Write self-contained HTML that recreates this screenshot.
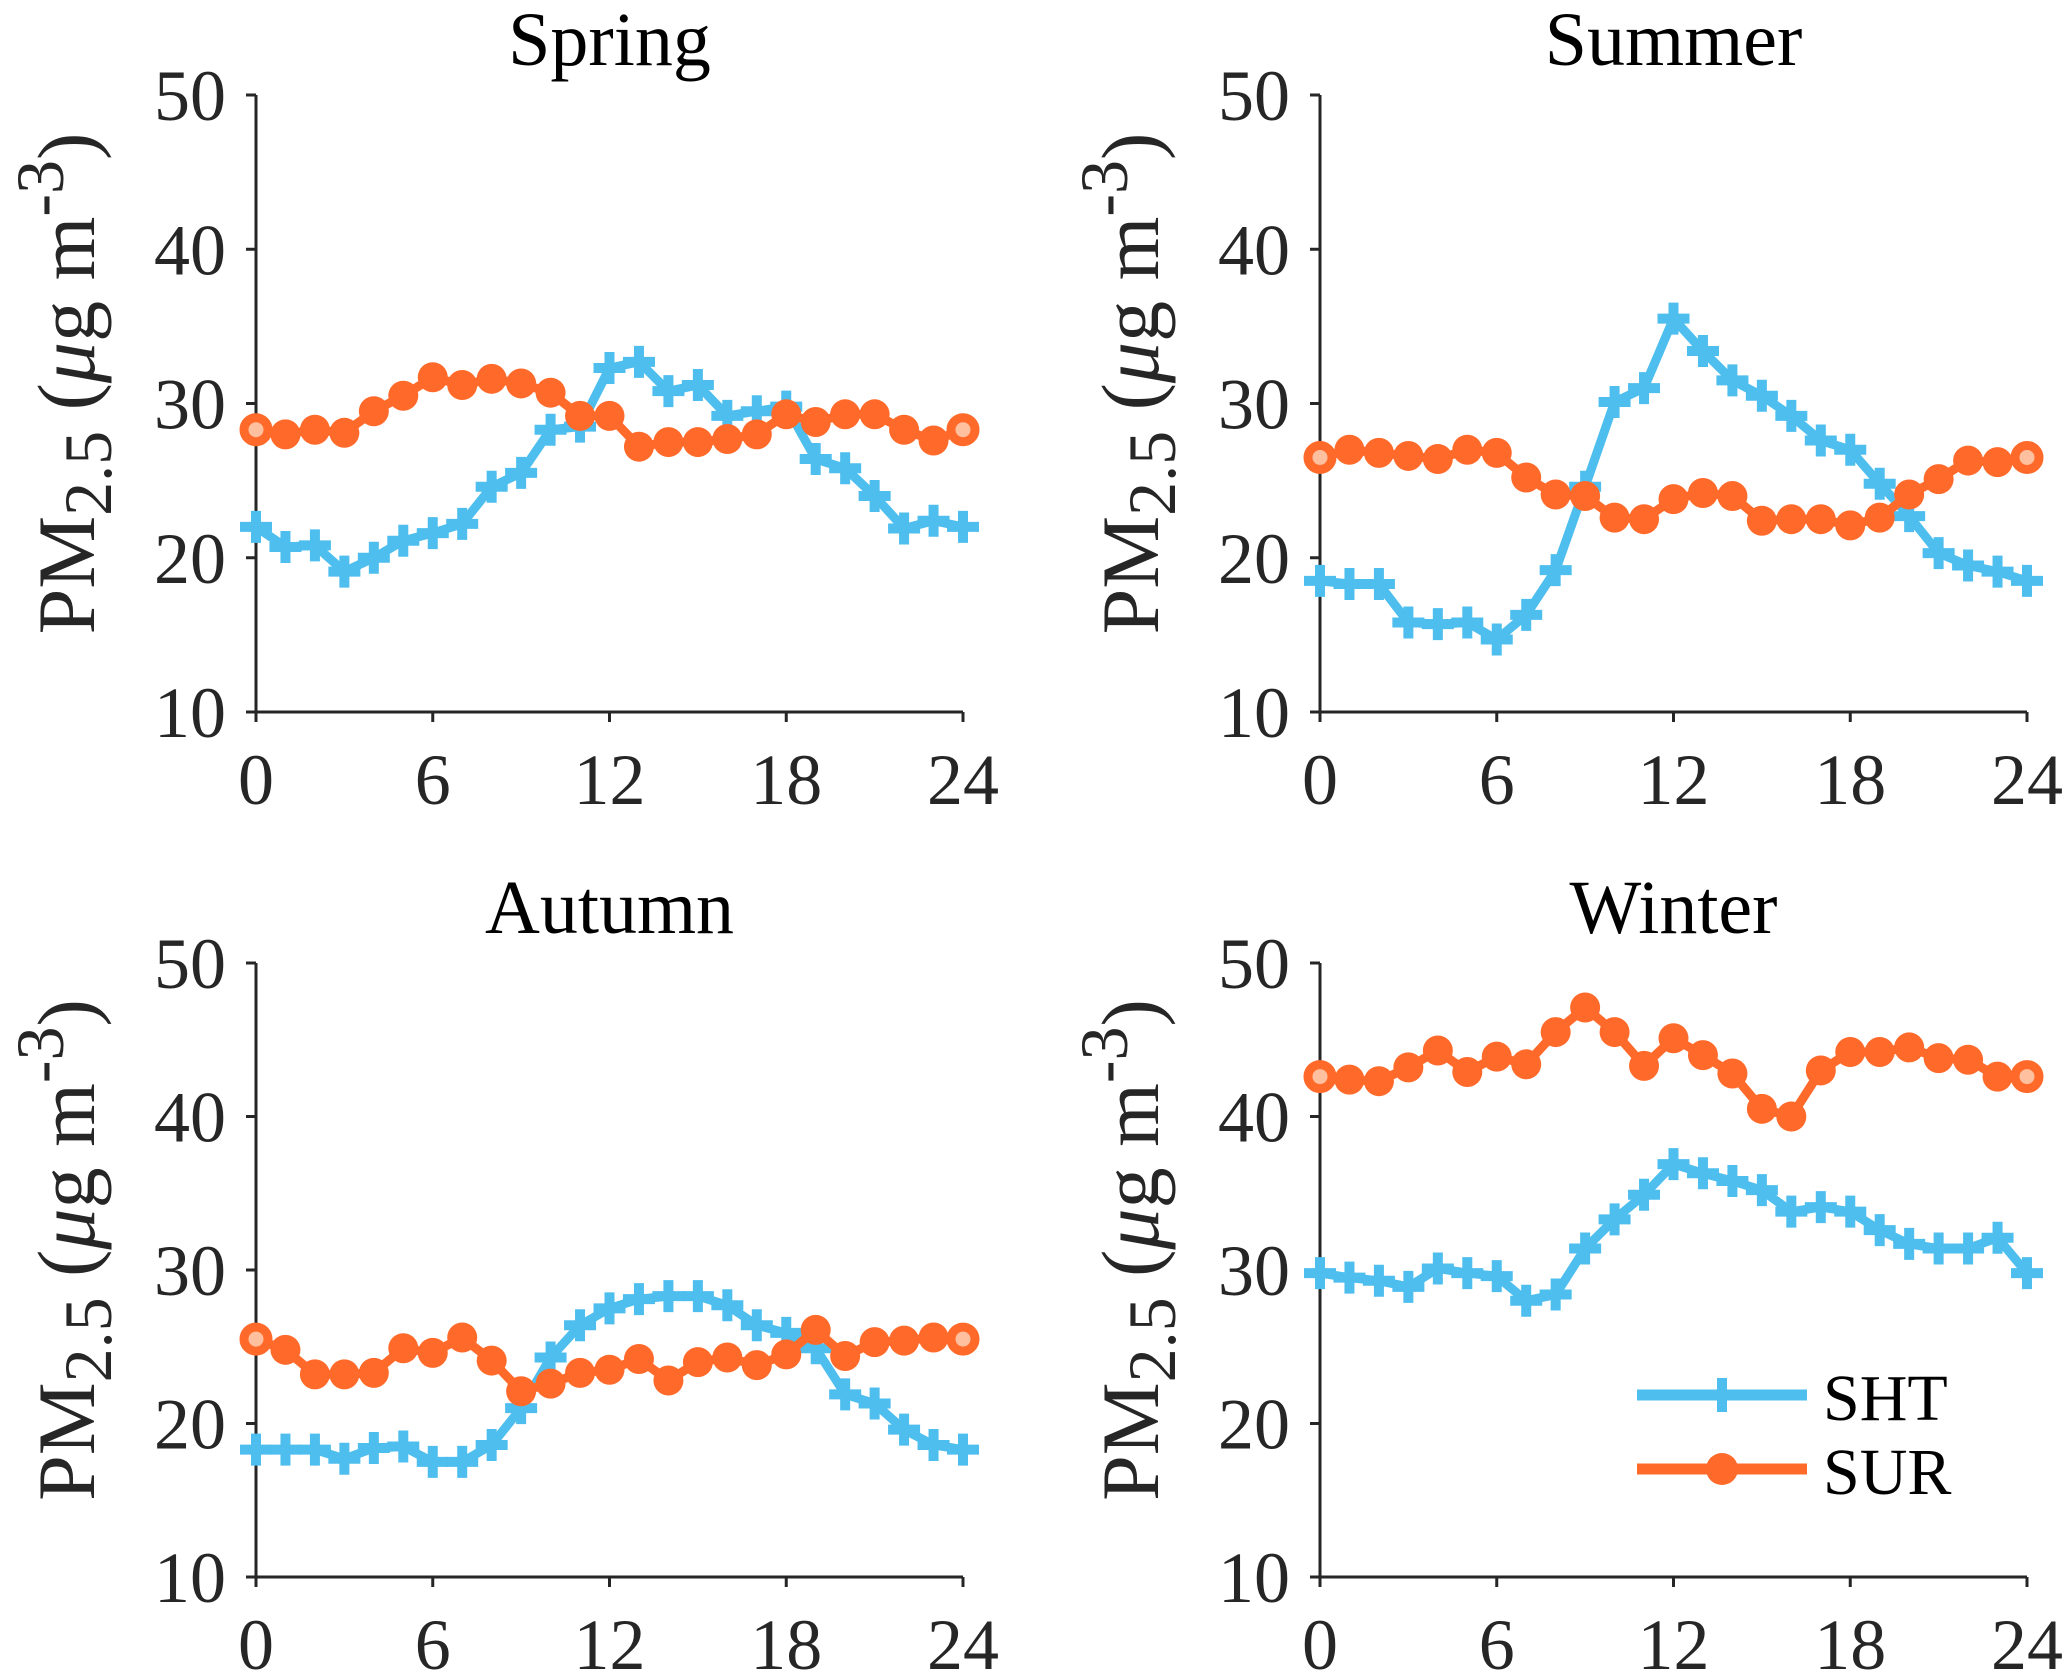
<!DOCTYPE html>
<html><head><meta charset="utf-8"><style>
html,body{margin:0;padding:0;background:#fff}
svg{display:block}
text{font-family:"Liberation Serif",serif;fill:#262626}
</style></head><body>
<svg id="chart" width="2067" height="1678" viewBox="0 0 2067 1678" xmlns="http://www.w3.org/2000/svg"></svg>
<script>
const hours = [0,1,2,3,4,5,6,7,8,9,10,11,12,13,14,15,16,17,18,19,20,21,22,23,24];
const xTicks = [0,6,12,18,24];
const yTicks = [10,20,30,40,50];
const seasons = ["Spring","Summer","Autumn","Winter"];
const springSHT = [22,20.7,20.8,19.1,20,21.1,21.6,22.2,24.6,25.5,28.3,28.5,32.3,32.7,30.8,31.2,29.2,29.5,29.8,26.4,25.8,24,21.9,22.4,22];
const springSUR = [28.3,28,28.3,28.1,29.5,30.5,31.7,31.2,31.6,31.3,30.7,29.2,29.2,27.2,27.5,27.5,27.7,28,29.3,28.8,29.3,29.3,28.3,27.6,28.3];
const summerSHT = [18.5,18.3,18.3,15.8,15.7,15.8,14.7,16.3,19.2,24.6,30.1,31,35.5,33.4,31.5,30.5,29.2,27.6,27,24.8,22.7,20.3,19.5,19.1,18.5];
const summerSUR = [26.5,27,26.8,26.6,26.4,27,26.8,25.2,24.1,24,22.6,22.5,23.8,24.2,24,22.4,22.5,22.5,22.1,22.6,24.1,25.1,26.3,26.2,26.5];
const autumnSHT = [18.3,18.3,18.3,17.7,18.4,18.5,17.5,17.5,18.6,21,24.3,26.4,27.5,28.1,28.3,28.3,27.7,26.4,25.9,24.9,21.9,21.3,19.6,18.6,18.3];
const autumnSUR = [25.5,24.8,23.2,23.2,23.3,24.9,24.6,25.6,24.1,22.1,22.6,23.3,23.5,24.2,22.8,24,24.3,23.8,24.5,26.1,24.4,25.3,25.4,25.6,25.5];
const winterSHT = [29.8,29.5,29.3,28.9,30.1,29.8,29.6,28,28.4,31.4,33.3,34.9,36.9,36.3,35.8,35.2,33.8,34.1,33.8,32.6,31.7,31.4,31.4,32.1,29.8];
const winterSUR = [42.6,42.4,42.3,43.2,44.3,42.9,43.9,43.4,45.5,47.1,45.5,43.3,45.1,44,42.8,40.5,40,43,44.2,44.2,44.5,43.8,43.7,42.6,42.6];
const seriesSHT = [springSHT, summerSHT, autumnSHT, winterSHT];
const seriesSUR = [springSUR, summerSUR, autumnSUR, winterSUR];

const BLUE = "#4DBEEE", ORANGE = "#FF6A2A";
const NS = "http://www.w3.org/2000/svg";
const svg = document.getElementById('chart');
function mk(tag, attrs, parent){ const e=document.createElementNS(NS,tag); for(const k in attrs) e.setAttribute(k,attrs[k]); (parent||svg).appendChild(e); return e; }

const panels = [
  {x0:256,x1:963,y0:95,y1:712},
  {x0:1320,x1:2027,y0:95,y1:712},
  {x0:256,x1:963,y0:963,y1:1577},
  {x0:1320,x1:2027,y0:963,y1:1577}
];

panels.forEach((p,i)=>{
  const g = mk('g',{});
  
  
  const xs = h => p.x0 + (h/24)*(p.x1-p.x0);
  const ys = v => p.y1 - ((v-10)/40)*(p.y1-p.y0);
  const ax = mk('path',{d:`M${p.x0},${p.y0} L${p.x0},${p.y1} L${p.x1},${p.y1}`,stroke:'#262626','stroke-width':3,fill:'none'},g);
  
  
  yTicks.forEach(t=>{
    mk('line',{x1:p.x0-10,x2:p.x0,y1:ys(t),y2:ys(t),stroke:'#262626','stroke-width':3},g);
    const tx = mk('text',{x:p.x0-30,y:ys(t)+25,'text-anchor':'end','font-size':72},g);
    tx.textContent = t;
    
    
  });
  xTicks.forEach(t=>{
    mk('line',{x1:xs(t),x2:xs(t),y1:p.y1,y2:p.y1+10,stroke:'#262626','stroke-width':3},g);
    const tx = mk('text',{x:xs(t),y:p.y1+92,'text-anchor':'middle','font-size':72},g);
    tx.textContent = t;
    
    
  });
  const ti = mk('text',{x:(p.x0+p.x1)/2,y:p.y0-30,'text-anchor':'middle','font-size':76,style:'fill:#000'},g);
  ti.textContent = seasons[i];
  
  
  const cy = (p.y0+p.y1)/2;
  const yl = mk('text',{transform:`translate(${p.x0-162},${cy-20}) rotate(-90)`,'text-anchor':'middle','font-size':82},g);
  yl.innerHTML = 'PM<tspan baseline-shift="-25%" font-size="68">2.5</tspan> (<tspan font-style="italic">μ</tspan>g m<tspan baseline-shift="45%" font-size="68">-3</tspan>)';
  
  
  const sht = seriesSHT[i], sur = seriesSUR[i];
  const l1 = mk('polyline',{points:hours.map((h,k)=>xs(h)+','+ys(sht[k])).join(' '),fill:'none',stroke:BLUE,'stroke-width':9,'stroke-linejoin':'round'},g);
  
  
  hours.forEach((h,k)=>{
    const cx=xs(h), cy2=ys(sht[k]);
    const m = mk('path',{d:`M${cx-16},${cy2} L${cx+16},${cy2} M${cx},${cy2-16} L${cx},${cy2+16}`,stroke:BLUE,'stroke-width':10},g);
    
    
  });
  const l2 = mk('polyline',{points:hours.map((h,k)=>xs(h)+','+ys(sur[k])).join(' '),fill:'none',stroke:ORANGE,'stroke-width':9,'stroke-linejoin':'round'},g);
  
  
  hours.forEach((h,k)=>{
    const end = (k===0||k===hours.length-1);
    const c = mk('circle',{cx:xs(h),cy:ys(sur[k]),r:end?12:15,fill:end?'#FFC0A0':ORANGE,stroke:ORANGE,'stroke-width':end?9:0},g);
    
    
  });
});

const lg = mk('g',{});


const e1 = mk('g',{},lg);


mk('line',{x1:1637,x2:1807,y1:1395,y2:1395,stroke:BLUE,'stroke-width':11},e1);
mk('path',{d:'M1722,1378 L1722,1412',stroke:BLUE,'stroke-width':10},e1);
const t1 = mk('text',{x:1823,y:1420,'font-size':66,style:'fill:#000'},e1); t1.textContent='SHT';
const e2 = mk('g',{},lg);


mk('line',{x1:1637,x2:1807,y1:1469,y2:1469,stroke:ORANGE,'stroke-width':11},e2);
mk('circle',{cx:1722,cy:1469,r:16,fill:ORANGE},e2);
const t2 = mk('text',{x:1823,y:1494,'font-size':66,style:'fill:#000'},e2); t2.textContent='SUR';
</script>
</body></html>
